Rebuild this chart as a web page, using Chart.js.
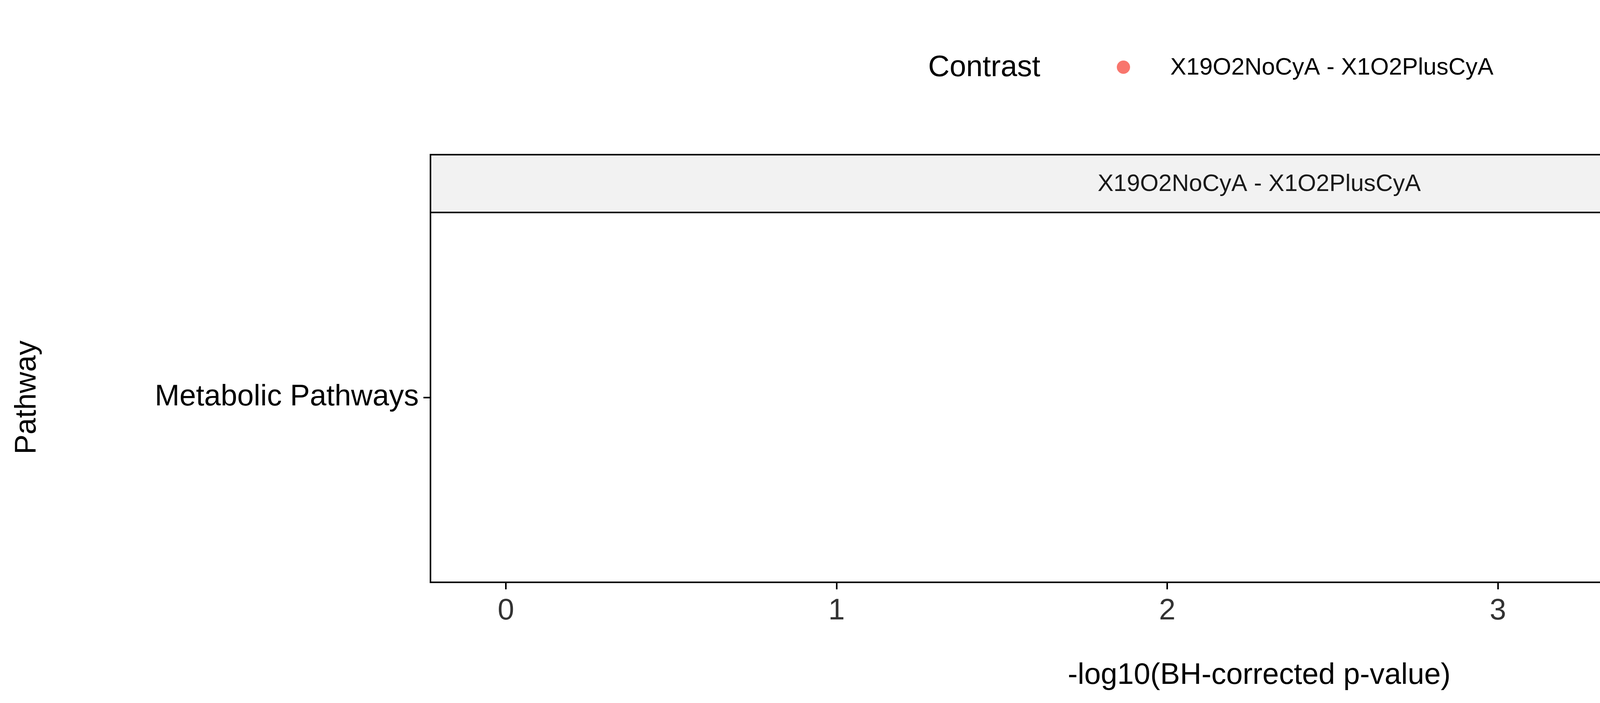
<!DOCTYPE html>
<html>
<head>
<meta charset="utf-8">
<script src="https://cdn.jsdelivr.net/npm/chart.js@4.4.1/dist/chart.umd.min.js"></script>
<style>
  html, body { margin: 0; padding: 0; background: #fff; overflow: hidden; }
  #wrap { width: 5400px; height: 1800px; }
  #chart { width: 5400px; height: 1800px; display: block; }
</style>
</head>
<body>
<div id="wrap"><canvas id="chart" width="5400" height="1800"></canvas></div>
<script>
const pathways = ['Metabolic Pathways'];
const contrasts = ['X19O2NoCyA - X1O2PlusCyA'];
const pValues = [4.06];
const xTicks = [0, 1, 2, 3, 4];
const pointColor = '#F8766D';

// Legend + facet strip drawn on top of the chart
const extras = {
    id: 'extras',
    afterDraw(chart) {
        const ctx = chart.ctx;
        const area = chart.chartArea;
        ctx.save();
        // legend
        ctx.textBaseline = 'middle';
        ctx.fillStyle = '#000';
        ctx.font = '76px Arial, "Liberation Sans", sans-serif';
        ctx.fillText('Contrast', 2376, 174);
        ctx.fillStyle = pointColor;
        ctx.beginPath();
        ctx.arc(2876, 172, 17, 0, Math.PI * 2);
        ctx.fill();
        ctx.fillStyle = '#000';
        ctx.font = '61px Arial, "Liberation Sans", sans-serif';
        ctx.fillText(contrasts[0], 2996, 174);
        // strip
        const top = 396;
        ctx.fillStyle = '#F2F2F2';
        ctx.fillRect(area.left, top, area.right - area.left, area.top - top);
        ctx.strokeStyle = '#000';
        ctx.lineWidth = 4;
        ctx.strokeRect(area.left, top, area.right - area.left, area.top - top);
        ctx.fillStyle = '#1A1A1A';
        ctx.textAlign = 'center';
        ctx.font = '61px Arial, "Liberation Sans", sans-serif';
        ctx.fillText(contrasts[0], (area.left + area.right) / 2, (top + area.top) / 2 + 2);
        ctx.restore();
    }
};

new Chart(document.getElementById('chart'), {
    type: 'scatter',
    data: {
        datasets: [{
            label: contrasts[0],
            data: pathways.map((p, i) => ({ x: pValues[i], y: p })),
            backgroundColor: pointColor,
            borderColor: pointColor,
            pointRadius: 17,
            pointHoverRadius: 17
        }]
    },
    options: {
        responsive: false,
        devicePixelRatio: 1,
        animation: false,
        layout: { padding: { top: 544, right: 55, left: 20, bottom: 20 } },
        plugins: { legend: { display: false }, tooltip: { enabled: false } },
        scales: {
            x: {
                type: 'linear',
                min: -0.228,
                max: 4.784,
                afterBuildTicks(axis) { axis.ticks = xTicks.map(v => ({ value: v })); },
                grid: { drawOnChartArea: false, drawTicks: true, tickLength: 18, color: '#000', lineWidth: 4 },
                border: { color: '#000', width: 4 },
                ticks: { color: '#333', font: { size: 76, family: 'Arial, "Liberation Sans", sans-serif' }, padding: 10 },
                title: { display: true, text: '-log10(BH-corrected p-value)', color: '#000',
                         font: { size: 76, family: 'Arial, "Liberation Sans", sans-serif' }, padding: { top: 0 } },
                afterFit(axis) { axis.height = 289; }
            },
            y: {
                type: 'category',
                labels: pathways,
                offset: true,
                grid: { drawOnChartArea: false, drawTicks: true, tickLength: 18, color: '#000', lineWidth: 4 },
                border: { color: '#000', width: 4 },
                ticks: { color: '#000', font: { size: 76, family: 'Arial, "Liberation Sans", sans-serif' }, padding: 12 },
                title: { display: true, text: 'Pathway', color: '#000',
                         font: { size: 76, family: 'Arial, "Liberation Sans", sans-serif' }, padding: { bottom: 20 } },
                afterFit(axis) { axis.width = 1082; }
            }
        }
    },
    plugins: [extras]
});
</script>
</body>
</html>
